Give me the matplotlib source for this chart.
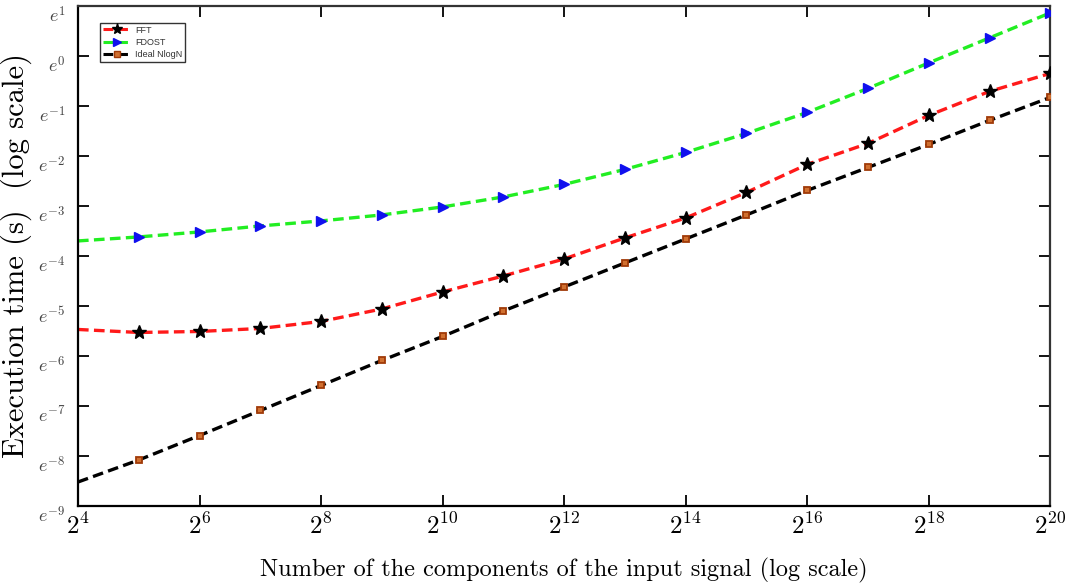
#!/usr/bin/env python3
"""
Execution time of FFT, FDOST and the ideal N log N curve vs. signal length.
"""

import matplotlib.pyplot as plt
from matplotlib.lines import Line2D

plt.rcParams["mathtext.fontset"] = "cm"

# ─── Data (log2 of N, ln of time in seconds) ───
log2_n = [4, 5, 6, 7, 8, 9, 10, 11, 12, 13, 14, 15, 16, 17, 18, 19, 20]
ln_fft = [-5.47, -5.53, -5.51, -5.45, -5.31, -5.06, -4.72, -4.40, -4.06,
          -3.64, -3.24, -2.73, -2.17, -1.75, -1.19, -0.71, -0.35]
ln_fdost = [-3.70, -3.62, -3.52, -3.40, -3.30, -3.18, -3.02, -2.82, -2.57,
            -2.27, -1.93, -1.55, -1.13, -0.65, -0.14, 0.36, 0.86]
ln_ideal = [-8.52, -8.08, -7.59, -7.09, -6.59, -6.09, -5.61, -5.10, -4.62,
            -4.14, -3.66, -3.18, -2.69, -2.23, -1.77, -1.29, -0.83]

x_ticks = [4, 6, 8, 10, 12, 14, 16, 18, 20]
y_ticks = [-9, -8, -7, -6, -5, -4, -3, -2, -1, 0, 1]

fig = plt.figure(figsize=(10.65, 5.85), dpi=100)
ax = fig.add_axes([0.0732, 0.135, 0.913, 0.855])

dash = (0, (3.2, 1.6))
red, green, blue = "#ff1a1a", "#22ee22", "#1010ee"
sq_face, sq_edge = "#d07030", "#a03a08"

ax.plot(log2_n, ln_fft, color=red, lw=2.4, linestyle=dash, zorder=2)
ax.plot(log2_n[1:], ln_fft[1:], linestyle="none", marker="*", color="black",
        markersize=10, zorder=3)
ax.plot(log2_n, ln_fdost, color=green, lw=2.4, linestyle=dash, zorder=2)
ax.plot(log2_n[1:], ln_fdost[1:], linestyle="none", marker=">", color=blue,
        markersize=7, zorder=3)
ax.plot(log2_n, ln_ideal, color="black", lw=2.4, linestyle=dash, zorder=2)
ax.plot(log2_n[1:], ln_ideal[1:], linestyle="none", marker="s",
        markerfacecolor=sq_face, markeredgecolor=sq_edge, markeredgewidth=1.3,
        markersize=5, zorder=3)

# Legend proxies (line + marker)
handles = [
    Line2D([], [], color=red, lw=2.2, linestyle=dash, marker="*",
           markerfacecolor="black", markeredgecolor="black", markersize=8),
    Line2D([], [], color=green, lw=2.2, linestyle=dash, marker=">",
           markerfacecolor=blue, markeredgecolor=blue, markersize=6),
    Line2D([], [], color="black", lw=2.2, linestyle=dash, marker="s",
           markerfacecolor=sq_face, markeredgecolor=sq_edge, markersize=4),
]
leg = ax.legend(handles, ["FFT", "FDOST", "Ideal NlogN"], loc="upper left",
                bbox_to_anchor=(0.018, 0.975), frameon=True,
                fancybox=False, edgecolor="#333333", framealpha=1,
                handlelength=3.2, handletextpad=0.4, borderpad=0.3,
                labelspacing=0.35, prop={"family": "Liberation Sans", "size": 6.5})
leg.get_frame().set_linewidth(1.0)
for t in leg.get_texts():
    t.set_color("#333333")

ax.set_xlim(4, 20)
ax.set_ylim(-9, 1)
ax.set_xticks(x_ticks)
ax.set_xticklabels([rf"$2^{{{v}}}$" for v in x_ticks], fontsize=18)
ax.set_yticks(y_ticks)
ax.set_yticklabels([rf"$e^{{{v}}}$" for v in y_ticks], fontsize=13, color="#444444")
for lbl in ax.get_yticklabels():
    lbl.set_verticalalignment("top")

ax.tick_params(direction="in", length=8, width=1.3, top=True, right=True)
ax.tick_params(axis="y", pad=9)
ax.tick_params(axis="x", pad=5)
for side in ["left", "bottom"]:
    ax.spines[side].set_linewidth(1.6)
    ax.spines[side].set_color("black")
for side in ["top", "right"]:
    ax.spines[side].set_linewidth(1.6)
    ax.spines[side].set_color("#333333")

ax.set_xlabel("Number of the components of the input signal (log scale)",
              fontsize=17.5, family="cmr10", labelpad=14)
ax.set_ylabel("Execution time (s)  (log scale)", fontsize=22, family="cmr10",
              labelpad=4)

fig.savefig("out.png", dpi=100, facecolor="white")
plt.close(fig)
